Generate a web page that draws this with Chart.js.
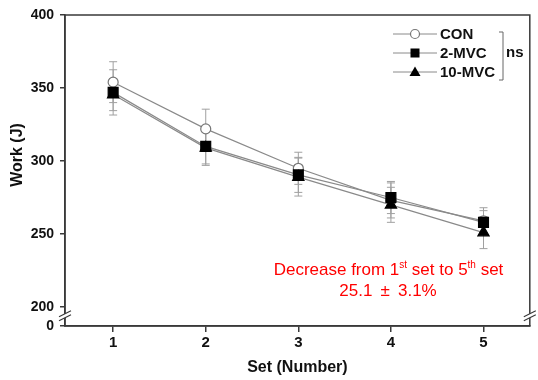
<!DOCTYPE html>
<html>
<head>
<meta charset="utf-8">
<script src="https://cdn.jsdelivr.net/npm/chart.js@4.4.1/dist/chart.umd.min.js"></script>
<style>
  html, body { margin: 0; padding: 0; background: #fff; }
  #wrap { position: relative; width: 538px; height: 380px; }
</style>
</head>
<body>
<div id="wrap"><canvas id="chart" width="538" height="380"></canvas></div>
<script>
const sets = [1, 2, 3, 4, 5];
const yTicks = [200, 250, 300, 350, 400];
const yBreakLabel = '0';

const conMean = [354, 322, 295, 273, 259];
const conErr = [14, 13.5, 11, 12, 9];
const mvc2Mean = [347, 310, 290.5, 275, 258];
const mvc2Err = [15.5, 13, 12, 11, 8];
const mvc10Mean = [345.5, 309, 289, 270, 251];
const mvc10Err = [11, 11, 13, 12, 11];

const seriesNames = ['CON', '2-MVC', '10-MVC'];
const yTitle = 'Work (J)';
const noteLine1 = ['Decrease from 1', 'st', ' set to 5', 'th', ' set'];
const noteLine2 = '25.1 \u2009\u00B1\u2009 3.1%';

const Y_MIN = 187;
const FONT = '"Liberation Sans", Arial, sans-serif';
const AXIS = '#3a3a3a';
const LINE = '#8a8a8a';

Chart.defaults.font.family = FONT;
Chart.defaults.color = '#111';

const toPoints = (vals) => sets.map((s, i) => ({ x: s, y: vals[i] }));

// error bars behind the markers
const errorBars = {
  id: 'errorBars',
  beforeDatasetsDraw(chart) {
    const { ctx, scales: { x, y } } = chart;
    ctx.save();
    ctx.strokeStyle = '#a0a0a0';
    ctx.lineWidth = 1;
    chart.data.datasets.forEach(ds => {
      ds.data.forEach((p, i) => {
        const px = x.getPixelForValue(p.x);
        const top = y.getPixelForValue(p.y + ds.err[i]);
        const bot = y.getPixelForValue(p.y - ds.err[i]);
        ctx.beginPath();
        ctx.moveTo(px, top); ctx.lineTo(px, bot);
        ctx.moveTo(px - 4, top); ctx.lineTo(px + 4, top);
        ctx.moveTo(px - 4, bot); ctx.lineTo(px + 4, bot);
        ctx.stroke();
      });
    });
    ctx.restore();
  }
};

// box, axis breaks, y title, legend, note
const decor = {
  id: 'decor',
  afterDraw(chart) {
    const { ctx, chartArea: a } = chart;
    ctx.save();
    ctx.strokeStyle = AXIS;
    ctx.lineWidth = 1.5;
    ctx.strokeRect(a.left, a.top, a.right - a.left, a.bottom - a.top);

    const brk = (cx, cy) => {
      ctx.fillStyle = '#fff';
      ctx.beginPath();
      ctx.moveTo(cx - 6, cy + 5); ctx.lineTo(cx + 6, cy - 1);
      ctx.lineTo(cx + 6, cy - 5); ctx.lineTo(cx - 6, cy + 1);
      ctx.closePath(); ctx.fill();
      ctx.strokeStyle = AXIS; ctx.lineWidth = 1.2;
      ctx.beginPath();
      ctx.moveTo(cx - 6, cy + 5); ctx.lineTo(cx + 6, cy - 1);
      ctx.moveTo(cx - 6, cy + 1); ctx.lineTo(cx + 6, cy - 5);
      ctx.stroke();
    };
    const yb = chart.scales.y.getPixelForValue(194);
    brk(a.left, yb);
    brk(a.right, yb);

    // y axis title, sits a bit above the middle like the original
    ctx.save();
    ctx.translate(18, 155);
    ctx.rotate(-Math.PI / 2);
    ctx.font = 'bold 16px ' + FONT;
    ctx.fillStyle = '#111';
    ctx.textAlign = 'center';
    ctx.textBaseline = 'middle';
    ctx.fillText(yTitle, 0, 0);
    ctx.restore();

    // legend
    const lx0 = 393, lx1 = 437, mx = 415;
    const rows = [34, 53, 72];
    ctx.strokeStyle = LINE; ctx.lineWidth = 1;
    rows.forEach(ry => {
      ctx.beginPath(); ctx.moveTo(lx0, ry); ctx.lineTo(lx1, ry); ctx.stroke();
    });
    ctx.fillStyle = '#fff'; ctx.strokeStyle = '#777'; ctx.lineWidth = 1.2;
    ctx.beginPath(); ctx.arc(mx, rows[0], 4.5, 0, Math.PI * 2); ctx.fill(); ctx.stroke();
    ctx.fillStyle = '#000';
    ctx.fillRect(mx - 4.5, rows[1] - 4.5, 9, 9);
    ctx.beginPath();
    ctx.moveTo(mx, rows[2] - 5.5); ctx.lineTo(mx + 5.5, rows[2] + 4); ctx.lineTo(mx - 5.5, rows[2] + 4);
    ctx.closePath(); ctx.fill();

    ctx.font = 'bold 15px ' + FONT;
    ctx.textBaseline = 'middle';
    ctx.textAlign = 'left';
    ctx.fillStyle = '#111';
    seriesNames.forEach((n, i) => ctx.fillText(n, 440, rows[i] + 1));

    ctx.strokeStyle = '#666'; ctx.lineWidth = 1;
    ctx.beginPath();
    ctx.moveTo(499, 32); ctx.lineTo(503, 32); ctx.lineTo(503, 80); ctx.lineTo(499, 80);
    ctx.stroke();
    ctx.fillText('ns', 506, 53);

    // note in red
    ctx.fillStyle = '#ff0000';
    ctx.textBaseline = 'alphabetic';
    const big = '17px ' + FONT, small = '10px ' + FONT;
    let w = 0;
    noteLine1.forEach((t, i) => { ctx.font = i % 2 ? small : big; w += ctx.measureText(t).width; });
    let x = 388.5 - w / 2;
    noteLine1.forEach((t, i) => {
      ctx.font = i % 2 ? small : big;
      ctx.fillText(t, x, i % 2 ? 268 : 275);
      x += ctx.measureText(t).width;
    });
    ctx.font = big;
    ctx.textAlign = 'center';
    ctx.fillText(noteLine2, 388, 296);
    ctx.restore();
  }
};

const base = {
  showLine: true,
  borderColor: LINE,
  borderWidth: 1.2,
  pointBorderWidth: 1.2,
  tension: 0
};

new Chart(document.getElementById('chart').getContext('2d'), {
  type: 'line',
  data: {
    datasets: [
      { ...base, label: seriesNames[1], data: toPoints(mvc2Mean), err: mvc2Err,
        pointStyle: 'rect', pointRadius: 7, pointBackgroundColor: '#000', pointBorderColor: '#000' },
      { ...base, label: seriesNames[2], data: toPoints(mvc10Mean), err: mvc10Err,
        pointStyle: 'triangle', pointRadius: 6.5, pointBackgroundColor: '#000', pointBorderColor: '#000' },
      { ...base, label: seriesNames[0], data: toPoints(conMean), err: conErr,
        pointStyle: 'circle', pointRadius: 5, pointBackgroundColor: '#fff', pointBorderColor: '#777' }
    ]
  },
  options: {
    responsive: false,
    animation: false,
    layout: { padding: { top: 15, right: 7, left: 0, bottom: 0 } },
    plugins: { legend: { display: false }, tooltip: { enabled: false } },
    scales: {
      x: {
        type: 'linear',
        min: 0.48,
        max: 5.5,
        afterBuildTicks: s => { s.ticks = sets.map(v => ({ value: v })); },
        afterFit: s => { s.height = 54; },
        grid: { drawOnChartArea: false, drawTicks: true, tickLength: 6, color: AXIS, lineWidth: 1.5 },
        border: { color: AXIS, width: 1.5 },
        ticks: { font: { size: 15, weight: 'bold' }, color: '#111', padding: 2 },
        title: { display: true, text: 'Set (Number)', font: { size: 16, weight: 'bold' }, color: '#111', padding: { top: 0, bottom: 3 } }
      },
      y: {
        type: 'linear',
        min: Y_MIN,
        max: 400,
        afterBuildTicks: s => { s.ticks = [Y_MIN, ...yTicks].map(v => ({ value: v })); },
        afterFit: s => { s.width = 65; },
        grid: { drawOnChartArea: false, drawTicks: true, tickLength: 5, color: AXIS, lineWidth: 1.5 },
        border: { color: AXIS, width: 1.5 },
        ticks: {
          font: { size: 14, weight: 'bold' }, color: '#111', padding: 6,
          callback: v => v === Y_MIN ? yBreakLabel : String(v)
        },
        title: { display: false }
      }
    }
  },
  plugins: [errorBars, decor]
});
</script>
</body>
</html>
